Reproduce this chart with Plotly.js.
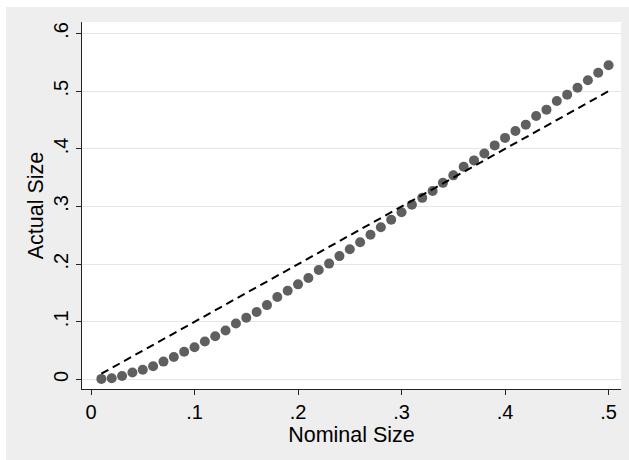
<!DOCTYPE html>
<html>
<head>
<meta charset="utf-8">
<script src="https://cdn.plot.ly/plotly-3.0.1.min.js"></script>
<style>
html, body { margin: 0; padding: 0; background: #ffffff; }
#chart { position: absolute; left: 6px; top: 7px; width: 623px; height: 453px; }
</style>
</head>
<body>
<div id="chart"></div>
<script>
// Nominal size (x) for each simulated point
const nominalSize = [0.01,0.02,0.03,0.04,0.05,0.06,0.07,0.08,0.09,0.10,
  0.11,0.12,0.13,0.14,0.15,0.16,0.17,0.18,0.19,0.20,
  0.21,0.22,0.23,0.24,0.25,0.26,0.27,0.28,0.29,0.30,
  0.31,0.32,0.33,0.34,0.35,0.36,0.37,0.38,0.39,0.40,
  0.41,0.42,0.43,0.44,0.45,0.46,0.47,0.48,0.49,0.50];
// Actual size (y)
const actualSize = [0.001,0.002,0.006,0.012,0.017,0.023,0.031,0.039,0.048,0.056,
  0.066,0.075,0.085,0.097,0.107,0.117,0.129,0.143,0.154,0.165,
  0.176,0.190,0.201,0.214,0.226,0.238,0.251,0.264,0.277,0.290,
  0.303,0.315,0.327,0.341,0.354,0.369,0.380,0.392,0.406,0.419,
  0.431,0.442,0.457,0.468,0.483,0.494,0.506,0.519,0.532,0.545];
// 45-degree reference line
const refX = [0.01, 0.50];
const refY = [0.01, 0.50];
const xTickVals = [0, 0.1, 0.2, 0.3, 0.4, 0.5];
const xTickText = ["0", ".1", ".2", ".3", ".4", ".5"];
const yTickVals = [0, 0.1, 0.2, 0.3, 0.4, 0.5, 0.6];
const yTickText = ["0", ".1", ".2", ".3", ".4", ".5", ".6"];

const font = "Liberation Sans, Arial, Helvetica, sans-serif";

const traces = [
  {
    x: nominalSize, y: actualSize, type: "scatter", mode: "markers",
    marker: { size: 10, color: "#5f5f5f", line: { width: 0 } },
    hoverinfo: "skip", showlegend: false
  },
  {
    x: refX, y: refY, type: "scatter", mode: "lines",
    line: { color: "#000000", width: 2, dash: "8px,5px" },
    hoverinfo: "skip", showlegend: false
  }
];

const layout = {
  width: 623, height: 453,
  paper_bgcolor: "#eeeeee",
  plot_bgcolor: "#ffffff",
  margin: { l: 76, r: 8, t: 15, b: 71 },
  showlegend: false,
  xaxis: {
    range: [-0.0087, 0.512],
    tickvals: xTickVals, ticktext: xTickText,
    ticks: "outside", ticklen: 5, tickwidth: 1, tickcolor: "#222222",
    showgrid: false, zeroline: false,
    showline: true, linecolor: "#222222", linewidth: 1,
    tickfont: { family: font, size: 20, color: "#000000" },
    title: { text: "Nominal Size", font: { family: font, size: 21.5, color: "#000000" }, standoff: 2 }
  },
  yaxis: {
    range: [-0.0165, 0.620],
    tickvals: yTickVals, ticktext: yTickText,
    tickangle: -90,
    ticks: "outside", ticklen: 5, tickwidth: 1, tickcolor: "#222222",
    showgrid: true, gridcolor: "#e6e6e6", gridwidth: 1,
    zeroline: false,
    showline: true, linecolor: "#222222", linewidth: 1,
    tickfont: { family: font, size: 20, color: "#000000" },
    title: { text: "Actual Size", font: { family: font, size: 21.5, color: "#000000" }, standoff: 0 }
  }
};

Plotly.newPlot("chart", traces, layout, { displayModeBar: false, staticPlot: true });
</script>
</body>
</html>
